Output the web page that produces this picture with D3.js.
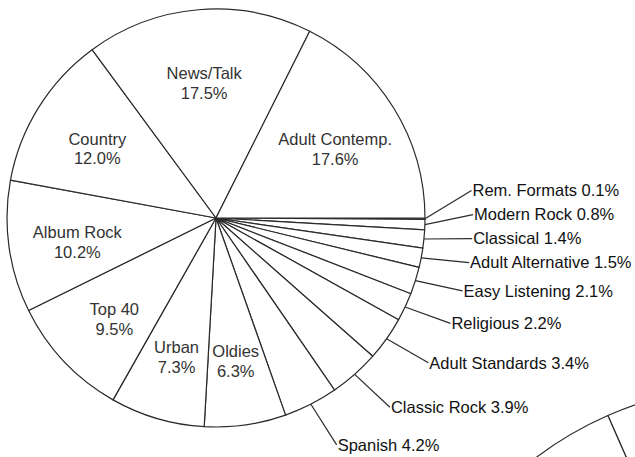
<!DOCTYPE html>
<html>
<head>
<meta charset="utf-8">
<script src="https://cdn.jsdelivr.net/npm/d3@7/dist/d3.min.js"></script>
<style>
  html, body { margin: 0; padding: 0; background: #fff; }
  svg { display: block; }
  text { font-family: "Liberation Sans", Arial, Helvetica, sans-serif; font-size: 16.5px; }
</style>
</head>
<body>
<svg id="chart" width="635" height="457"></svg>
<script>
// ---- data (clockwise from 3 o'clock) ----
const formats = ["Rem. Formats", "Modern Rock", "Classical", "Adult Alternative", "Easy Listening",
  "Religious", "Adult Standards", "Classic Rock", "Spanish", "Oldies", "Urban", "Top 40",
  "Album Rock", "Country", "News/Talk", "Adult Contemp."];
const shares = [0.1, 0.8, 1.4, 1.5, 2.1, 2.2, 3.4, 3.9, 4.2, 6.3, 7.3, 9.5, 10.2, 12.0, 17.5, 17.6];
// which slices carry their label outside with a leader line
const outside = [true, true, true, true, true, true, true, true, true,
  false, false, false, false, false, false, false];
// partial second pie at bottom-right (only one boundary visible)
const nextPieShares = [6.6, 93.4];

const svg = d3.select("#chart");
const cx = 216, cy = 218, R = 209;
const stroke = "#2a2a2a";

const data = formats.map((f, i) => ({ name: f, value: shares[i], out: outside[i] }));

const pie = d3.pie().sort(null).value(d => d.value)
  .startAngle(Math.PI / 2).endAngle(Math.PI / 2 + 2 * Math.PI);
const arcs = pie(data);
const arc = d3.arc().innerRadius(0).outerRadius(R);

const g = svg.append("g").attr("transform", `translate(${cx},${cy})`);

g.selectAll("path.slice").data(arcs).join("path")
  .attr("class", "slice")
  .attr("d", arc)
  .attr("fill", "#fff")
  .attr("stroke", stroke)
  .attr("stroke-width", 1.2)
  .attr("stroke-linejoin", "round");

// ---- inside labels ----
const labelArc = d3.arc().innerRadius(140).outerRadius(140);
const inner = g.selectAll("g.inlab").data(arcs.filter(a => !a.data.out)).join("g")
  .attr("class", "inlab")
  .attr("transform", a => `translate(${labelArc.centroid(a)})`);
inner.append("text").attr("text-anchor", "middle").attr("y", -5).attr("dy", "0.35em")
  .attr("fill", "#333").text(a => a.data.name);
inner.append("text").attr("text-anchor", "middle").attr("y", 15).attr("dy", "0.35em")
  .attr("fill", "#333").text(a => a.data.value.toFixed(1) + "%");

// ---- outside labels with leaders ----
const RL = 257, gap = 24;
const outs = arcs.filter(a => a.data.out).map(a => {
  const mid = (a.startAngle + a.endAngle) / 2;          // d3 angle (0 = 12 o'clock)
  const lab = mid - Math.PI / 180;                        // slight upward bias
  return { a, mid, ny: RL * -Math.cos(lab) };
});
// resolve overlaps from bottom to top
for (let i = outs.length - 1; i >= 0; i--) {
  let y = outs[i].ny;
  if (i < outs.length - 1) y = Math.min(y, outs[i + 1].y - gap);
  outs[i].y = y;
  outs[i].x = Math.sqrt(Math.max(0, RL * RL - y * y));
}
const lg = g.selectAll("g.outlab").data(outs).join("g").attr("class", "outlab");
lg.append("line")
  .attr("x1", d => R * Math.sin(d.mid))
  .attr("y1", d => -R * Math.cos(d.mid))
  .attr("x2", d => d.x)
  .attr("y2", d => d.y)
  .attr("stroke", stroke).attr("stroke-width", 1.2);
lg.append("text")
  .attr("x", d => d.x + 1)
  .attr("y", d => d.y)
  .attr("dy", "0.35em")
  .attr("fill", "#111")
  .text(d => `${d.a.data.name} ${d.a.data.value.toFixed(1)}%`);

// ---- partial second pie ----
const cx2 = 753, cy2 = 745, R2 = 360;
const pie2 = d3.pie().sort(null).value(d => d).startAngle(-0.415).endAngle(-0.415 + 2 * Math.PI);
const g2 = svg.append("g").attr("transform", `translate(${cx2},${cy2})`);
g2.selectAll("path").data(pie2(nextPieShares)).join("path")
  .attr("d", d3.arc().innerRadius(0).outerRadius(R2))
  .attr("fill", "#fff").attr("stroke", stroke).attr("stroke-width", 1.2);
</script>
</body>
</html>
